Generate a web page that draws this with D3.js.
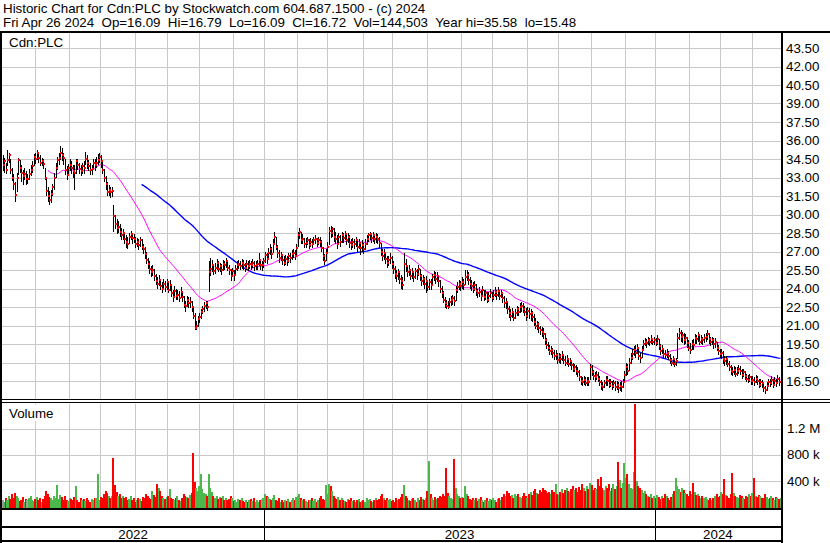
<!DOCTYPE html>
<html><head><meta charset="utf-8">
<script src="https://cdn.jsdelivr.net/npm/d3@7"></script>
<style>
body{margin:0;background:#fff;}
svg{display:block;font-family:"Liberation Sans",Arial,sans-serif;}
</style>
</head><body>
<svg id="chart" width="830" height="543"></svg>
<script>
// ---------------- DATA ----------------
const headerLine1 = "Historic Chart for Cdn:PLC by Stockwatch.com 604.687.1500 - (c) 2024";
const headerLine2 = "Fri Apr 26 2024  Op=16.09  Hi=16.79  Lo=16.09  Cl=16.72  Vol=144,503  Year hi=35.58  lo=15.48";
const symbolLabel = "Cdn:PLC";
const volumeLabel = "Volume";
const firstDay = "2022-05-02";
const lastDay = "2024-04-26";
const holidays = ["2022-05-23","2022-07-01","2022-08-01","2022-09-05","2022-10-10","2022-12-26","2022-12-27",
  "2023-01-02","2023-02-20","2023-04-07","2023-05-22","2023-07-03","2023-08-07","2023-09-04","2023-10-09","2023-12-25","2023-12-26",
  "2024-01-01","2024-02-19","2024-03-29"];
const priceTicks = [16.5,18,19.5,21,22.5,24,25.5,27,28.5,30,31.5,33,34.5,36,37.5,39,40.5,42,43.5];
const volTicks = [400000,800000,1200000];
const volTickLabels = ["400 k","800 k","1.2 M"];
const yearLabels = ["2022","2023","2024"];
const maShort = 30, maLong = 90;

const closes = [
34.0,34.3,33.6,34.4,34.8,33.6,33.0,32.5,31.6,33.0,
34.4,33.8,33.4,33.1,33.3,32.9,32.9,33.3,33.6,33.9,
34.7,34.5,35.0,34.6,34.2,34.3,34.1,33.0,31.9,31.5,
31.2,31.7,32.2,33.0,33.8,34.4,34.6,35.0,34.8,34.6,
33.6,33.2,33.8,34.0,33.8,33.5,33.4,34.3,34.0,33.7,
33.5,33.9,33.8,34.5,34.2,33.9,33.6,33.7,34.2,34.0,
34.2,34.4,34.7,34.3,33.6,33.0,32.5,31.8,32.0,31.8,
31.9,29.9,29.2,28.9,29.0,28.6,28.3,28.5,28.0,27.8,
27.6,28.2,28.4,28.1,28.0,27.6,27.8,27.5,27.9,27.4,
27.2,26.8,26.3,26.0,25.6,25.3,25.5,25.0,24.6,24.4,
24.7,24.2,24.0,24.4,24.1,24.5,23.9,24.3,23.6,23.3,
23.8,23.4,23.5,23.2,23.7,23.3,22.7,22.6,23.1,22.8,
22.9,22.5,21.8,20.8,21.0,21.5,21.7,22.1,22.3,22.6,
22.8,22.5,25.3,25.6,25.9,25.4,25.7,26.1,25.6,25.8,
25.5,26.0,25.9,26.2,25.7,25.5,25.0,25.4,25.1,25.6,
25.9,26.0,25.8,26.1,25.9,25.7,26.0,25.8,26.0,25.9,
26.1,25.8,25.9,26.0,26.3,25.9,25.9,26.2,26.7,26.4,
26.9,27.2,26.8,27.6,28.2,27.4,26.9,26.5,26.7,26.3,
26.1,26.4,26.2,26.6,26.5,26.8,26.9,26.6,27.3,28.3,
28.6,27.9,28.0,27.6,27.7,27.9,27.5,27.8,27.6,27.9,
28.0,27.7,27.9,27.8,27.3,26.6,26.2,26.9,27.4,28.7,
28.5,28.8,28.2,28.0,27.6,28.2,27.8,28.3,28.1,28.4,
27.9,28.2,27.7,27.5,27.8,27.6,27.9,27.4,27.7,27.3,
27.5,27.2,27.6,28.0,28.3,28.4,28.1,28.3,28.0,28.2,
28.0,27.7,27.0,26.6,26.9,26.4,26.1,26.3,26.5,26.0,
25.6,25.2,25.0,25.3,24.8,24.6,24.3,26.0,25.8,25.3,
25.5,25.0,25.3,24.9,25.4,25.2,25.6,25.0,24.6,24.8,
24.4,24.6,24.1,24.5,24.3,24.9,25.1,24.8,25.0,24.6,
24.0,23.6,23.1,22.8,22.6,22.5,22.9,23.1,23.2,23.0,
23.9,24.1,24.4,24.2,24.5,24.3,24.9,25.1,24.7,24.4,
24.2,24.0,24.3,23.8,23.6,23.7,23.4,23.9,23.3,23.6,
23.1,23.4,23.6,23.2,23.5,23.7,23.5,23.8,23.4,23.6,
23.2,22.8,22.9,22.3,22.0,21.8,22.1,21.6,22.0,22.3,
22.1,22.5,22.6,22.3,22.1,21.8,22.2,21.9,22.0,21.7,
21.3,21.0,21.1,20.8,20.6,20.5,20.3,19.8,19.4,19.2,
18.9,19.0,18.8,18.5,18.6,18.2,18.5,18.3,18.6,18.2,
18.0,18.3,17.9,18.1,17.8,17.5,17.6,17.3,17.2,16.8,
16.5,16.4,16.6,16.3,16.5,16.4,17.6,17.2,16.9,16.8,
17.0,16.7,16.4,16.1,16.0,16.3,16.6,16.5,16.2,16.4,
16.1,16.3,16.0,16.2,15.9,16.1,16.0,16.4,17.0,17.6,
17.3,18.0,18.4,18.7,19.0,18.8,19.2,18.5,18.4,19.0,
19.5,19.7,19.6,19.8,19.7,19.9,19.7,19.8,19.6,19.9,
19.3,18.9,19.1,18.7,18.6,18.8,18.5,18.2,18.0,18.3,
17.9,18.1,20.0,20.4,20.1,20.2,19.8,20.0,19.6,19.2,
19.0,19.5,19.4,20.0,19.9,20.2,19.7,19.9,19.8,20.0,
20.1,20.3,19.9,19.7,19.8,19.5,19.7,19.2,18.9,18.7,
18.8,18.3,18.1,18.3,17.9,17.6,17.3,17.2,17.4,17.1,
17.3,17.5,17.3,17.0,17.2,16.9,16.7,16.6,16.8,16.5,
16.6,16.4,16.7,16.5,16.2,16.4,16.3,15.9,15.8,16.1,
16.4,16.3,16.6,16.2,16.5,16.3,16.7,16.4,16.72];

const highs = [
34.8,34.6,34.2,35.2,35.0,34.5,33.8,33.3,32.6,33.4,
34.6,34.4,34.0,33.6,33.8,33.5,33.3,33.7,34.0,34.3,
34.9,35.0,35.2,35.1,34.8,34.6,34.5,33.8,32.9,32.2,
31.9,32.0,32.5,33.4,34.2,34.7,35.0,35.58,35.4,35.0,
34.5,33.9,34.1,34.5,34.3,34.0,34.0,34.5,34.5,34.2,
34.0,34.2,34.3,35.1,34.8,34.4,34.2,34.0,34.5,34.5,
34.7,34.9,35.0,34.8,34.3,33.7,33.1,32.6,32.4,32.2,
32.2,30.8,30.0,29.6,29.5,29.2,28.9,28.8,28.6,28.3,
28.2,28.5,28.7,28.5,28.4,28.2,28.1,28.0,28.2,28.0,
27.6,27.4,27.0,26.5,26.2,25.8,25.9,25.6,25.2,24.9,
25.1,24.8,24.5,24.8,24.6,24.8,24.5,24.7,24.2,23.9,
24.2,24.0,23.9,23.8,24.1,23.8,23.4,23.0,23.4,23.3,
23.3,23.0,22.6,22.0,21.4,21.8,22.0,22.3,22.6,22.9,
23.0,23.0,26.2,26.5,26.3,26.0,26.1,26.4,26.2,26.1,
26.0,26.3,26.2,26.5,26.2,25.9,25.6,25.7,25.5,25.9,
26.2,26.3,26.2,26.4,26.3,26.1,26.3,26.2,26.3,26.2,
26.4,26.2,26.2,26.3,26.9,26.4,26.2,26.5,27.0,26.9,
27.3,27.6,27.4,28.0,28.6,28.2,27.5,27.1,27.0,26.8,
26.6,26.7,26.6,26.9,26.9,27.1,27.2,27.1,27.6,28.6,
28.9,28.6,28.4,28.1,28.1,28.2,28.0,28.1,28.0,28.2,
28.3,28.1,28.2,28.2,27.9,27.4,26.8,27.2,27.8,29.0,
29.1,29.0,28.9,28.6,28.3,28.5,28.3,28.6,28.5,28.7,
28.5,28.5,28.3,28.0,28.1,28.0,28.2,28.0,28.0,27.8,
27.9,27.7,28.0,28.3,28.5,28.6,28.5,28.6,28.4,28.5,
28.4,28.2,27.7,27.2,27.2,27.0,26.6,26.6,26.9,26.6,
26.2,25.8,25.5,25.6,25.4,25.1,24.9,26.9,26.4,25.9,
25.9,25.6,25.7,25.4,25.7,25.6,25.9,25.6,25.2,25.1,
24.9,25.0,24.7,24.8,24.8,25.2,25.4,25.3,25.3,25.1,
24.7,24.2,23.8,23.3,23.1,23.0,23.2,23.4,23.5,23.4,
24.2,24.5,24.7,24.6,24.9,24.8,25.5,25.5,25.3,24.9,
24.7,24.5,24.6,24.4,24.0,24.1,23.9,24.2,23.9,23.9,
23.7,23.7,24.0,23.7,23.9,24.1,23.9,24.1,23.9,23.9,
23.7,23.4,23.2,22.9,22.6,22.3,22.4,22.2,22.3,22.6,
22.5,22.8,22.9,22.8,22.6,22.4,22.5,22.4,22.3,22.2,
21.9,21.6,21.4,21.3,21.0,20.9,20.8,20.4,20.0,19.7,
19.4,19.3,19.2,19.0,19.0,18.8,18.8,18.7,18.9,18.7,
18.5,18.6,18.4,18.4,18.2,18.0,17.9,17.8,17.6,17.4,
16.9,16.8,16.9,16.8,16.8,16.8,17.9,17.8,17.4,17.2,
17.3,17.2,16.9,16.6,16.4,16.6,16.9,16.9,16.7,16.7,
16.5,16.6,16.5,16.5,16.4,16.4,16.5,16.7,17.3,18.0,
17.9,18.4,18.8,19.1,19.3,19.4,19.5,19.2,18.8,19.3,
19.8,20.0,19.9,20.1,20.0,20.2,20.0,20.1,20.0,20.2,
19.9,19.5,19.4,19.2,19.0,19.1,18.9,18.7,18.4,18.5,
18.4,18.4,20.4,20.8,20.6,20.5,20.4,20.3,20.1,19.8,
19.6,19.8,19.9,20.3,20.2,20.5,20.2,20.2,20.1,20.3,
20.4,20.6,20.4,20.1,20.1,20.0,20.0,19.7,19.4,19.1,
19.1,18.9,18.5,18.5,18.4,18.1,17.8,17.6,17.7,17.6,
17.6,17.8,17.7,17.5,17.5,17.3,17.1,17.0,17.1,16.9,
16.9,16.8,17.0,16.9,16.7,16.7,16.6,16.4,16.1,16.4,
16.7,16.7,16.9,16.7,16.8,16.7,17.0,16.8,16.79];

const lows = [
33.5,33.4,33.3,33.9,34.2,33.3,32.7,32.0,31.0,31.8,
33.2,33.4,32.6,32.4,32.8,32.4,32.5,32.8,33.1,33.4,
33.9,34.1,34.4,34.2,33.9,33.9,33.7,32.8,31.5,31.0,
30.8,30.9,31.5,32.0,33.0,33.6,34.0,34.4,34.3,34.0,
33.2,32.8,33.1,33.5,33.3,33.0,32.0,33.3,33.6,33.3,
33.1,33.3,33.3,34.0,33.7,33.5,33.2,33.2,33.6,33.5,
33.8,34.0,34.2,33.8,33.3,32.6,32.0,31.5,31.5,31.3,
31.4,28.6,28.8,28.4,28.5,28.2,27.9,27.9,27.6,27.3,
27.2,27.6,27.9,27.6,27.7,27.3,27.4,27.1,27.4,27.1,
26.8,26.4,26.0,25.6,25.2,24.9,25.0,24.6,24.3,24.0,
24.2,23.9,23.6,23.9,23.7,23.9,23.6,23.8,23.3,22.9,
23.2,23.1,23.1,22.9,23.2,22.9,22.4,22.1,22.5,22.4,
22.4,22.1,21.5,20.6,20.6,20.9,21.2,21.5,21.9,22.1,
22.3,22.2,23.7,25.0,25.3,25.1,25.2,25.5,25.3,25.3,
25.1,25.4,25.5,25.7,25.4,25.1,24.6,24.9,24.6,25.0,
25.4,25.6,25.5,25.6,25.5,25.3,25.5,25.4,25.6,25.5,
25.7,25.4,25.5,25.5,25.8,25.5,25.4,25.7,26.1,26.0,
26.3,26.7,26.4,26.9,27.5,27.1,26.5,26.1,26.2,25.9,
25.8,25.9,25.8,26.1,26.1,26.3,26.5,26.3,26.7,27.4,
28.0,27.6,27.6,27.3,27.3,27.5,27.2,27.4,27.3,27.5,
27.6,27.4,27.5,27.4,27.0,26.2,25.9,26.2,26.8,27.5,
28.1,28.2,27.8,27.6,27.2,27.5,27.4,27.7,27.7,27.9,
27.5,27.7,27.3,27.1,27.3,27.2,27.4,27.0,27.2,26.7,
27.0,26.8,27.1,27.5,27.8,27.9,27.7,27.8,27.6,27.7,
27.6,27.3,26.6,26.2,26.3,26.0,25.7,25.8,26.0,25.6,
25.2,24.8,24.5,24.7,24.4,24.0,23.9,24.6,25.3,24.9,
25.0,24.7,24.8,24.5,24.8,24.7,25.0,24.6,24.2,24.3,
24.0,23.6,23.8,23.9,23.9,24.2,24.6,24.4,24.5,24.1,
23.6,23.2,22.8,22.4,22.3,22.3,22.4,22.6,22.7,22.6,
23.0,23.6,23.9,23.8,24.0,23.9,24.3,24.6,24.3,24.0,
23.8,23.6,23.8,23.4,23.2,23.3,23.0,23.3,23.0,23.1,
22.8,22.9,23.2,22.9,23.1,23.3,23.1,23.3,23.1,23.2,
22.8,22.4,22.3,21.9,21.6,21.4,21.6,21.4,21.5,21.8,
21.8,22.0,22.1,22.0,21.8,21.4,21.6,21.5,21.4,21.3,
21.0,20.7,20.6,20.4,20.2,20.1,19.9,19.4,19.1,18.9,
18.6,18.6,18.4,18.2,18.2,17.9,18.0,17.9,18.1,17.9,
17.7,17.8,17.6,17.7,17.4,17.2,17.2,17.0,16.8,16.5,
16.2,16.1,16.2,16.1,16.1,16.1,16.6,16.9,16.6,16.4,
16.6,16.4,16.1,15.8,15.7,15.9,16.1,16.1,15.9,16.0,
15.8,15.9,15.7,15.8,15.5,15.7,15.6,15.9,16.3,16.9,
17.0,17.3,17.9,18.2,18.5,18.4,18.7,18.2,18.0,18.4,
19.0,19.3,19.2,19.4,19.3,19.5,19.4,19.4,19.3,19.4,
19.0,18.6,18.7,18.4,18.3,18.4,18.2,17.9,17.7,17.8,
17.6,17.7,18.3,19.8,19.7,19.6,19.4,19.5,19.2,18.9,
18.7,19.0,19.0,19.5,19.5,19.7,19.4,19.5,19.4,19.6,
19.7,19.8,19.5,19.3,19.4,19.1,19.2,18.9,18.6,18.4,
18.3,17.9,17.7,17.8,17.6,17.3,17.0,16.9,17.0,16.8,
16.9,17.1,17.0,16.7,16.8,16.6,16.4,16.3,16.4,16.2,
16.2,16.1,16.3,16.2,15.9,16.0,15.9,15.6,15.48,15.7,
16.0,16.0,16.2,15.9,16.1,16.0,16.3,16.1,16.09];

// volume in thousands of shares
const volumesK = [
120,90,150,110,170,130,200,140,220,180,
150,100,120,160,90,130,110,140,170,120,
100,130,160,110,150,90,130,180,250,200,
160,140,120,170,150,340,130,190,160,110,
180,120,100,140,130,110,160,330,120,90,
140,110,130,100,150,120,90,130,110,150,
140,510,120,160,150,200,250,220,180,140,
170,750,340,230,180,200,150,170,140,160,
120,130,170,110,140,90,120,150,130,100,
160,140,200,180,150,130,250,190,160,360,
300,250,170,140,130,160,180,280,150,130,
110,140,170,120,100,150,200,180,160,140,
190,220,830,390,300,250,330,510,280,220,
200,180,510,300,240,180,150,170,130,160,
140,180,120,150,110,130,170,140,100,120,
90,130,110,140,100,80,120,90,110,130,
100,140,90,120,80,110,130,150,210,180,
160,130,110,150,190,120,100,140,90,110,
80,120,100,130,90,110,140,120,160,180,
200,150,120,130,100,90,120,110,140,100,
130,90,120,150,170,130,110,340,200,350,
330,250,180,150,130,160,110,140,120,100,
90,130,110,140,100,120,80,110,130,90,
100,120,90,140,110,130,100,90,120,150,
110,130,170,200,150,120,140,110,130,100,
120,90,140,110,130,160,200,340,180,140,
120,100,130,150,110,90,140,120,160,130,
110,150,250,700,200,140,120,160,130,150,
180,160,200,170,600,220,180,140,130,740,
300,200,180,150,160,140,330,200,170,130,
120,150,110,140,100,130,160,120,90,110,
140,100,130,120,150,110,90,130,140,120,
160,200,180,250,220,170,190,150,210,180,
200,160,140,180,220,170,150,200,230,190,
250,280,220,200,260,230,300,270,250,220,
240,200,260,230,350,210,190,240,280,220,
260,300,250,230,280,320,260,290,240,310,
270,350,300,250,330,280,380,340,260,300,
280,440,320,460,300,270,330,290,360,250,
300,350,280,330,690,420,300,380,670,450,
510,350,300,280,540,1700,400,330,300,260,
220,250,200,180,160,200,150,170,140,190,
160,130,180,150,210,170,140,120,160,200,
250,450,320,280,240,300,260,220,200,180,
250,200,370,230,190,210,170,150,180,140,
160,130,120,150,110,140,170,200,160,180,
230,210,430,190,170,150,200,530,220,180,
160,140,190,170,150,130,180,160,200,170,
220,450,180,160,190,170,150,140,200,160,
130,150,170,140,120,160,150,130,145];

// ---------------- LAYOUT ----------------
const W = 830, H = 543;
const plotL = 2, plotR = 781;
const priceTop = 33, priceBot = 399;
const volTop = 404, volBot = 508;
const svg = d3.select("#chart");

// trading calendar
const hol = new Set(holidays);
const dates = [];
for (let d = new Date(firstDay + "T00:00:00Z"); d <= new Date(lastDay + "T00:00:00Z"); d.setUTCDate(d.getUTCDate() + 1)) {
  const wd = d.getUTCDay();
  const s = d.toISOString().slice(0, 10);
  if (wd > 0 && wd < 6 && !hol.has(s)) dates.push(new Date(d));
}
const N = closes.length;
const x = d3.scaleLinear().domain([0, N - 1]).range([2.5, 780.6]);
const dx = x(1) - x(0);
const y = d3.scaleLinear().domain([16.5, 43.5]).range([381, 48]);
const yv = d3.scaleLinear().domain([0, 1600000]).range([507.5, 402.3]);

const monthStarts = [], yearStarts = [];
for (let i = 1; i < Math.min(N, dates.length); i++) {
  if (dates[i].getUTCMonth() !== dates[i - 1].getUTCMonth()) monthStarts.push(i);
  if (dates[i].getUTCFullYear() !== dates[i - 1].getUTCFullYear()) yearStarts.push(i);
}
const gx = i => Math.round(x(i) - dx / 2) + 0.5;

svg.append("rect").attr("width", W).attr("height", H).attr("fill", "#fff");

// clip paths
const defs = svg.append("defs");
defs.append("clipPath").attr("id", "cp").append("rect")
  .attr("x", plotL).attr("y", priceTop).attr("width", plotR - plotL).attr("height", priceBot - priceTop);
defs.append("clipPath").attr("id", "cv").append("rect")
  .attr("x", plotL).attr("y", volTop).attr("width", plotR - plotL).attr("height", volBot - volTop + 1);

const gridColor = "#c8c8c8";
// price grid
const gp = svg.append("g").attr("shape-rendering", "crispEdges");
gp.selectAll("line.h").data(priceTicks).join("line")
  .attr("x1", plotL).attr("x2", plotR)
  .attr("y1", d => Math.round(y(d)) + 0.5).attr("y2", d => Math.round(y(d)) + 0.5)
  .attr("stroke", gridColor);
gp.selectAll("line.v").data(monthStarts).join("line")
  .attr("x1", gx).attr("x2", gx).attr("y1", priceTop).attr("y2", priceBot)
  .attr("stroke", gridColor);
// volume grid
const gv = svg.append("g").attr("shape-rendering", "crispEdges");
gv.selectAll("line.h").data(volTicks).join("line")
  .attr("x1", plotL).attr("x2", plotR)
  .attr("y1", d => Math.round(yv(d)) + 0.5).attr("y2", d => Math.round(yv(d)) + 0.5)
  .attr("stroke", gridColor);
gv.selectAll("line.v").data(monthStarts).join("line")
  .attr("x1", gx).attr("x2", gx).attr("y1", volTop).attr("y2", volBot)
  .attr("stroke", gridColor);

// moving averages
function sma(arr, n) {
  return arr.map((_, i) => i < n - 1 ? null : d3.mean(arr.slice(i - n + 1, i + 1)));
}
const maS = sma(closes, maShort), maL = sma(closes, maLong);
const line = d3.line().defined(d => d[1] != null).x(d => x(d[0])).y(d => y(d[1]));
const pp = svg.append("g").attr("clip-path", "url(#cp)");
pp.append("path").attr("d", line(maL.map((v, i) => [i, v]))).attr("fill", "none")
  .attr("stroke", "#0000ff").attr("stroke-width", 1.4);
pp.append("path").attr("d", line(maS.map((v, i) => [i, v]))).attr("fill", "none")
  .attr("stroke", "#ff00ff").attr("stroke-width", 1);

// price bars
const bars = pp.append("g").attr("shape-rendering", "crispEdges");
bars.selectAll("rect.bar").data(closes).join("rect")
  .attr("x", (d, i) => Math.round(x(i)) - 0.5)
  .attr("width", 1)
  .attr("y", (d, i) => Math.round(y(Math.max(highs[i], d))))
  .attr("height", (d, i) => Math.max(1, Math.round(y(Math.min(lows[i], d))) - Math.round(y(Math.max(highs[i], d)))))
  .attr("fill", "#000");
bars.selectAll("rect.cl").data(closes).join("rect")
  .attr("x", (d, i) => Math.round(x(i)) - 0.5)
  .attr("width", 2)
  .attr("y", d => Math.round(y(d)) - 1)
  .attr("height", 2)
  .attr("fill", "#ff0000");

// volume bars
const vb = svg.append("g").attr("clip-path", "url(#cv)").attr("shape-rendering", "crispEdges");
vb.selectAll("rect").data(volumesK).join("rect")
  .attr("x", (d, i) => Math.round(x(i)) - 1)
  .attr("width", 2)
  .attr("y", d => yv(d * 1000))
  .attr("height", d => yv(0) - yv(d * 1000))
  .attr("fill", (d, i) => i === 0 || closes[i] === closes[i - 1] ? "#a0a0a0" : (closes[i] > closes[i - 1] ? "#4cb84c" : "#ff0000"));

// labels inside panels
const txt = (s, xx, yy, anchor) => svg.append("text").attr("x", xx).attr("y", yy)
  .attr("font-size", "13.33px").attr("fill", "#000").attr("text-anchor", anchor || "start")
  .style("white-space", "pre").text(s);
svg.append("rect").attr("x", 3).attr("y", 34).attr("width", 63).attr("height", 14).attr("fill", "#fff");
txt(symbolLabel, 9, 46.5);
svg.append("rect").attr("x", 3).attr("y", 405).attr("width", 55).attr("height", 16).attr("fill", "#fff");
txt(volumeLabel, 9, 418);

// header
txt(headerLine1, 3, 12.5);
txt(headerLine2, 3, 26.5);

// axis labels (right)
const ax = svg.append("g");
ax.selectAll("text.p").data(priceTicks).join("text")
  .attr("x", 786).attr("y", d => y(d) + 4.5).attr("font-size", "13.33px").text(d => d.toFixed(2));
ax.selectAll("text.v").data(volTicks).join("text")
  .attr("x", 787).attr("y", d => yv(d) + 4.5).attr("font-size", "13.33px").text((d, i) => volTickLabels[i]);

// frame
const fr = svg.append("g").attr("shape-rendering", "crispEdges").attr("fill", "#000");
fr.append("rect").attr("x", 0).attr("y", 31).attr("width", W).attr("height", 2);
fr.append("rect").attr("x", 0).attr("y", 31).attr("width", 2).attr("height", H - 31);
fr.append("rect").attr("x", 781).attr("y", 31).attr("width", 2).attr("height", H - 31);
fr.append("rect").attr("x", 0).attr("y", 399).attr("width", W).attr("height", 1);
fr.append("rect").attr("x", 0).attr("y", 402).attr("width", W).attr("height", 1);
fr.append("rect").attr("x", 0).attr("y", 508).attr("width", 783).attr("height", 2);
fr.append("rect").attr("x", 0).attr("y", 526).attr("width", 783).attr("height", 2);
fr.append("rect").attr("x", 0).attr("y", 540).attr("width", 783).attr("height", 2);
fr.selectAll("rect.yr").data(yearStarts).join("rect")
  .attr("x", d => Math.round(x(d) - dx / 2)).attr("y", 510).attr("width", 1).attr("height", 31);

// year labels
const bounds = [plotL, ...yearStarts.map(d => x(d) - dx / 2), plotR];
svg.selectAll("text.yl").data(yearLabels).join("text")
  .attr("x", (d, i) => (bounds[i] + bounds[i + 1]) / 2).attr("y", 539)
  .attr("text-anchor", "middle").attr("font-size", "13.33px").text(d => d);
</script>
</body></html>
